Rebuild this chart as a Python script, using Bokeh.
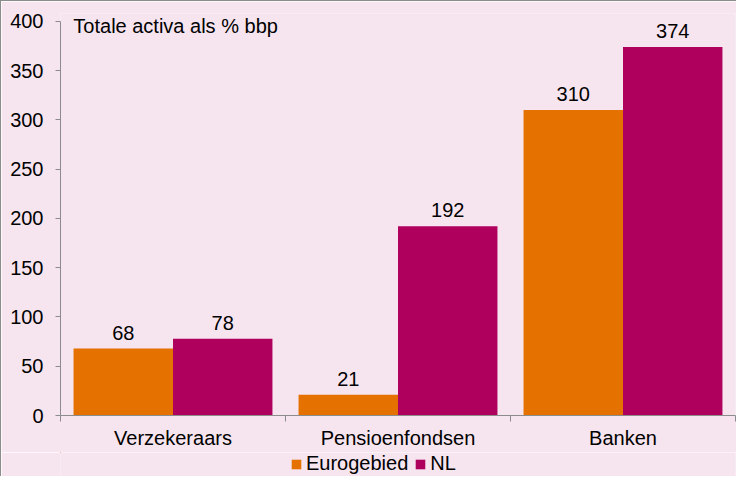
import numpy as np
from bokeh.plotting import figure
from bokeh.layouts import column
from bokeh.models import Range1d, FixedTicker, Label, ColumnDataSource, Legend, LegendItem
from bokeh.core.properties import value
from bokeh.embed import file_html
from bokeh.resources import INLINE

categories = ["Verzekeraars", "Pensioenfondsen", "Banken"]
series_names = ["Eurogebied", "NL"]
eurogebied = [68, 21, 310]
nl = [78, 192, 374]
y_ticks = [0, 50, 100, 150, 200, 250, 300, 350, 400]
title_text = "Totale activa als % bbp"

ORANGE = "#E47100"
MAGENTA = "#B0005E"
PINK = "#F6E5EF"
GRAY = "#8C8C8C"
FONT = "Liberation Sans"

idx = np.arange(len(categories))
bar_w = 0.442
centers = idx + 0.5

src_e = ColumnDataSource(dict(x=centers - bar_w / 2, top=eurogebied,
                              lab=[str(v) for v in eurogebied]))
src_n = ColumnDataSource(dict(x=centers + bar_w / 2, top=nl,
                              lab=[str(v) for v in nl]))

p = figure(width=736, height=452, output_backend="svg", toolbar_location=None,
           x_range=Range1d(0, len(categories)), y_range=Range1d(0, 408),
           min_border_left=59, min_border_right=2, min_border_top=12,
           min_border_bottom=38)
p.background_fill_color = PINK
p.border_fill_color = PINK
p.outline_line_color = None
p.grid.visible = False
p.styles = {"border-left": "1px solid " + GRAY, "border-top": "1px solid " + GRAY}

p.vbar(x="x", top="top", width=bar_w, source=src_e, color=ORANGE, line_color=None)
p.vbar(x="x", top="top", width=bar_w, source=src_n, color=MAGENTA, line_color=None)

for src in (src_e, src_n):
    p.text(x="x", y="top", text="lab", source=src, text_align="center",
           text_baseline="bottom", y_offset=-9, text_font=value(FONT),
           text_font_size="20px", text_color="#000000")

p.add_layout(Label(x=0.057, y=400, text=title_text, text_font=FONT,
                   text_font_size="20px", text_color="#000000",
                   text_baseline="top", y_offset=6))

# x axis
xa = p.xaxis[0]
xa.ticker = FixedTicker(ticks=list(centers), minor_ticks=list(np.arange(len(categories) + 1)))
xa.major_label_overrides = {float(c): n for c, n in zip(centers, categories)}
xa.major_tick_line_color = None
xa.major_tick_out = 0
xa.major_tick_in = 0
xa.minor_tick_line_color = GRAY
xa.minor_tick_out = 6
xa.minor_tick_in = 0
xa.axis_line_color = GRAY
xa.major_label_standoff = 5
xa.major_label_text_font = FONT
xa.major_label_text_font_size = "20px"
xa.major_label_text_color = "#000000"

ya = p.yaxis[0]
ya.ticker = FixedTicker(ticks=y_ticks)
ya.bounds = (y_ticks[0], y_ticks[-1])
ya.minor_tick_line_color = None
ya.major_tick_line_color = GRAY
ya.major_tick_out = 5
ya.major_tick_in = 0
ya.axis_line_color = GRAY
ya.major_label_standoff = 12
ya.major_label_text_font = FONT
ya.major_label_text_font_size = "20px"
ya.major_label_text_color = "#000000"

# legend strip (its ranges keep the swatch renderers out of view)
p2 = figure(width=736, height=24, output_backend="svg", toolbar_location=None,
            x_range=Range1d(10, 11), y_range=Range1d(-2, -1), min_border=0)
p2.background_fill_color = PINK
p2.border_fill_color = PINK
p2.outline_line_color = None
p2.grid.visible = False
p2.axis.visible = False
p2.styles = {"border-left": "1px solid " + GRAY}
# zero-size bars: they only give the legend its swatches
le = p2.vbar(x="x", top="top", bottom="top", width=0, source=src_e,
             color=ORANGE, line_color=None)
ln = p2.vbar(x="x", top="top", bottom="top", width=0, source=src_n,
             color=MAGENTA, line_color=None)

lg = Legend(items=[LegendItem(label=series_names[0], renderers=[le]),
                   LegendItem(label=series_names[1], renderers=[ln])],
            orientation="horizontal", location=(230, 1))
lg.padding = 0
lg.margin = 0
lg.spacing = 6
lg.label_standoff = 4
lg.glyph_width = 12
lg.glyph_height = 12
lg.label_height = 20
lg.label_text_font = FONT
lg.label_text_font_size = "20px"
lg.label_text_color = "#000000"
lg.border_line_color = None
lg.background_fill_alpha = 0
p2.add_layout(lg)

layout = column(p, p2, spacing=0)
open("out.html", "w").write(file_html(layout, INLINE))
